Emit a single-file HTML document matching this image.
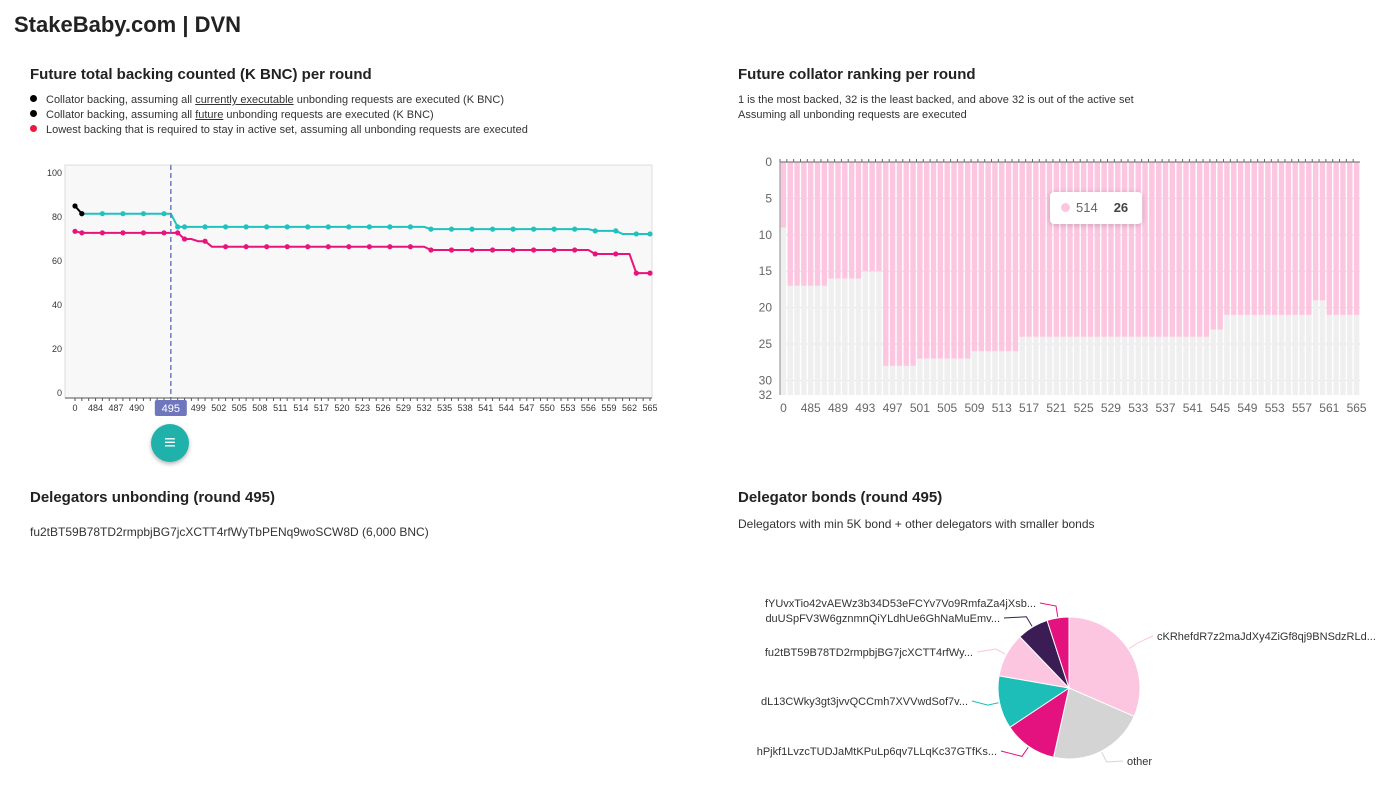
<!DOCTYPE html>
<html><head><meta charset="utf-8">
<style>
body{margin:0;width:1400px;height:810px;background:#fff;font-family:"Liberation Sans",sans-serif;color:#222;position:relative;overflow:hidden}
.abs{position:absolute}
h1{position:absolute;left:14px;top:12px;margin:0;font-size:22px;font-weight:bold;color:#222}
.st{position:absolute;font-size:15px;font-weight:bold;margin:0}
.sm{position:absolute;font-size:11px;color:#333;line-height:15px}
.leg{position:absolute;font-size:11px;color:#333;line-height:15px}
.leg span.d{display:inline-block;width:7px;height:7px;border-radius:50%;margin-right:9px;vertical-align:1px}
svg text{font-family:"Liberation Sans",sans-serif}
</style></head><body>
<h1>StakeBaby.com | DVN</h1>

<div class="st" style="left:30px;top:66px">Future total backing counted (K BNC) per round</div>
<div class="leg" style="left:30px;top:93px">
<div><span class="d" style="background:#000"></span>Collator backing, assuming all <u>currently executable</u> unbonding requests are executed (K BNC)</div>
<div><span class="d" style="background:#000"></span>Collator backing, assuming all <u>future</u> unbonding requests are executed (K BNC)</div>
<div><span class="d" style="background:#f0173f"></span>Lowest backing that is required to stay in active set, assuming all unbonding requests are executed</div>
</div>

<div class="st" style="left:738px;top:66px">Future collator ranking per round</div>
<div class="sm" style="left:738px;top:93px">1 is the most backed, 32 is the least backed, and above 32 is out of the active set<br>Assuming all unbonding requests are executed</div>

<svg class="abs" style="left:0;top:0" width="1400" height="810" id="svg"></svg>

<div class="st" style="left:30px;top:489px">Delegators unbonding (round 495)</div>
<div class="abs" style="left:30px;top:525px;font-size:12px;color:#333">fu2tBT59B78TD2rmpbjBG7jcXCTT4rfWyTbPENq9woSCW8D (6,000 BNC)</div>

<div class="st" style="left:738px;top:489px">Delegator bonds (round 495)</div>
<div class="abs" style="left:738px;top:517px;font-size:12px;color:#333">Delegators with min 5K bond + other delegators with smaller bonds</div>

<div class="abs" style="left:151px;top:424px;width:38px;height:38px;border-radius:50%;background:#20b2aa;box-shadow:0 2px 4px rgba(0,0,0,.3);color:#fff;text-align:center;line-height:38px;font-size:20px">≡</div>

<div class="abs" style="left:1050px;top:192px;width:92px;height:32px;background:#fff;border-radius:4px;box-shadow:0 1px 6px rgba(0,0,0,.2);font-size:13px;line-height:32px"><span style="display:inline-block;width:9px;height:9px;border-radius:50%;background:#fcc5e0;margin:0 6px 0 11px"></span><span style="color:#666">514</span><b style="margin-left:16px;color:#444">26</b></div>

<script>
// ---- data ----
const rounds = ["0"]; for (let r=482;r<=565;r++) rounds.push(String(r));
const blackSeries = [85, 81.5];
const cyanSeries = [null,81.5,81.5,81.5,81.5,81.5,81.5,81.5,81.5,81.5,81.5,81.5,81.5,81.5,81.5,
 75.5,75.5,75.5,75.5,75.5,75.5,75.5,75.5,75.5,75.5,75.5,75.5,75.5,75.5,75.5,75.5,75.5,75.5,75.5,75.5,75.5,75.5,75.5,75.5,75.5,75.5,75.5,75.5,75.5,75.5,75.5,75.5,75.5,75.5,75.5,75.5,75.5,
 74.5,74.5,74.5,74.5,74.5,74.5,74.5,74.5,74.5,74.5,74.5,74.5,74.5,74.5,74.5,74.5,74.5,74.5,74.5,74.5,74.5,74.5,74.5,74.5,
 73.7,73.7,73.7,73.7,72.3,72.3,72.3,72.3,72.3];
const pinkSeries = [73.5,72.8,72.8,72.8,72.8,72.8,72.8,72.8,72.8,72.8,72.8,72.8,72.8,72.8,72.8,72.8,
 70,70,69,69,
 66.5,66.5,66.5,66.5,66.5,66.5,66.5,66.5,66.5,66.5,66.5,66.5,66.5,66.5,66.5,66.5,66.5,66.5,66.5,66.5,66.5,66.5,66.5,66.5,66.5,66.5,66.5,66.5,66.5,66.5,66.5,66.5,
 65,65,65,65,65,65,65,65,65,65,65,65,65,65,65,65,65,65,65,65,65,65,65,65,
 63.2,63.2,63.2,63.2,63.2,63.2,54.5,54.5,54.5];
const yTicksLeft = [0,20,40,60,80,100];
const rankSeries = [9,17,17,17,17,17,17,16,16,16,16,16,15,15,15,28,28,28,28,28,
 27,27,27,27,27,27,27,27,26,26,26,26,26,26,26,
 24,24,24,24,24,24,24,24,24,24,24,24,24,24,24,24,24,24,24,24,24,24,24,24,24,24,24,24,
 23,23,21,21,21,21,21,21,21,21,21,21,21,21,21,19,19,21,21,21,21,21];
const yTicksRight = [0,5,10,15,20,25,30,32];
const pieLabels = ["cKRhefdR7z2maJdXy4ZiGf8qj9BNSdzRLd...","other","hPjkf1LvzcTUDJaMtKPuLp6qv7LLqKc37GTfKs...","dL13CWky3gt3jvvQCCmh7XVVwdSof7v...","fu2tBT59B78TD2rmpbjBG7jcXCTT4rfWy...","duUSpFV3W6gznmnQiYLdhUe6GhNaMuEmv...","fYUvxTio42vAEWz3b34D53eFCYv7Vo9RmfaZa4jXsb..."];
const pieValues = [31.6,22,12.2,12.1,10.1,7.2,5.0];

const NS="http://www.w3.org/2000/svg", svg=document.getElementById('svg');
function mk(tag,attrs,parent){const e=document.createElementNS(NS,tag);for(const k in attrs)e.setAttribute(k,attrs[k]);(parent||svg).appendChild(e);return e;}

// ---- left chart ----
const L={x0:75,x1:650,top:165,bot:398};
const lx=i=>L.x0+(L.x1-L.x0)*i/(rounds.length-1);
const ly=v=>393-v*2.2;
let bg=mk('rect',{x:65,y:L.top,width:587,height:L.bot-L.top,fill:'#f8f8f8',stroke:'#ddd'});


yTicksLeft.forEach(v=>{const t=mk('text',{x:62,y:ly(v)+3,'text-anchor':'end','font-size':9,fill:'#333'});t.textContent=v;

});
mk('line',{x1:65,x2:652,y1:L.bot,y2:L.bot,stroke:'#555'});
rounds.forEach((r,i)=>{mk('line',{x1:lx(i),x2:lx(i),y1:L.bot,y2:L.bot+3,stroke:'#555'});
 if(i%3===0&&r!=="493"){const t=mk('text',{x:lx(i),y:411,'text-anchor':'middle','font-size':9,fill:'#333'});t.textContent=r;
 
 }});
function line(series,color,name,dotEvery){
 let d='';series.forEach((v,i)=>{if(v==null)return;d+=(d?'L':'M')+lx(i)+','+ly(v);});
 const p=mk('path',{d:d,fill:'none',stroke:color,'stroke-width':2});
 
 
 series.forEach((v,i)=>{if(v==null)return;if(dotEvery&&(i%3!==1&&i!==0&&i!==84&&i!==15))return;
  const c=mk('circle',{cx:lx(i),cy:ly(v),r:2.6,fill:color});
  
  });
}
line(cyanSeries,'#1fc2bd','future-backing-line',true);
line(pinkSeries,'#e8137b','lowest-backing-line',true);
line(blackSeries,'#000','current-backing-line',false);
const sel=rounds.indexOf("495");
mk('line',{x1:lx(sel),x2:lx(sel),y1:L.top,y2:L.bot,stroke:'#5c6bc0','stroke-dasharray':'5,3','stroke-width':1.3});
mk('rect',{x:lx(sel)-16,y:400,width:32,height:16,rx:2,fill:'#6e76bd'});
let al=mk('text',{x:lx(sel),y:412,'text-anchor':'middle','font-size':11,fill:'#fff'});al.textContent=rounds[sel];



// ---- right chart ----
const R={x0:780,x1:1360,top:162,bot:395,max:32};
const bw=(R.x1-R.x0)/rounds.length;
const ry=v=>R.top+(R.bot-R.top)*v/R.max;
yTicksRight.forEach(v=>{if(v>0&&v<32)mk('line',{x1:R.x0,x2:R.x1,y1:ry(v),y2:ry(v),stroke:'#e0e3ea'});
 const t=mk('text',{x:772,y:ry(v)+4,'text-anchor':'end','font-size':12,fill:'#666'});t.textContent=v;
 
 });
rankSeries.forEach((v,i)=>{const x=R.x0+i*bw+0.7,w=bw-1.4;
 const g=mk('rect',{x:x,y:ry(v),width:w,height:R.bot-ry(v),fill:'#efefef'});
 
 
 const b=mk('rect',{x:x,y:R.top,width:w,height:ry(v)-R.top,fill:'#fcc5e0'});
 
 });
mk('line',{x1:R.x0,x2:R.x1,y1:R.top,y2:R.top,stroke:'#666'});
mk('line',{x1:R.x0,x2:R.x0,y1:R.top,y2:R.bot,stroke:'#888'});
rounds.forEach((r,i)=>{mk('line',{x1:R.x0+i*bw,x2:R.x0+i*bw,y1:R.top,y2:R.top-3,stroke:'#666'});
 if(i%4===0){const t=mk('text',{x:R.x0+(i+0.5)*bw,y:412,'text-anchor':'middle','font-size':12,fill:'#666'});t.textContent=r;
 
 }});

// ---- pie ----
const pieColors=['#fcc5e0','#d4d4d4','#e3127e','#1dbdb8','#fcc5e0','#3c1c55','#e3127e'];
const labelPos=[[1157,640,'start'],[1127,765,'start'],[997,755,'end'],[968,705,'end'],[973,656,'end'],[1000,622,'end'],[1036,607,'end']];
const cx=1069,cy=688,rad=71,tot=pieValues.reduce((a,b)=>a+b,0);
let acc=0;
pieValues.forEach((v,i)=>{const a0=acc/tot*2*Math.PI,a1=(acc+v)/tot*2*Math.PI;acc+=v;
 const p=(a)=>[cx+rad*Math.sin(a),cy-rad*Math.cos(a)];
 const s=p(a0),e=p(a1),lg=(a1-a0)>Math.PI?1:0;
 const sl=mk('path',{d:`M${cx},${cy}L${s[0]},${s[1]}A${rad},${rad} 0 ${lg} 1 ${e[0]},${e[1]}Z`,fill:pieColors[i],stroke:'#fff','stroke-width':1});
 
 
 const am=(a0+a1)/2,m=[cx+(rad+1)*Math.sin(am),cy-(rad+1)*Math.cos(am)],m2=[cx+(rad+12)*Math.sin(am),cy-(rad+12)*Math.cos(am)];
 const lp=labelPos[i],ex=lp[2]==='start'?lp[0]-4:lp[0]+4;
 mk('polyline',{points:`${m[0]},${m[1]} ${m2[0]},${m2[1]} ${ex},${lp[1]-4}`,fill:'none',stroke:pieColors[i]});
 const t=mk('text',{x:lp[0],y:lp[1],'text-anchor':lp[2],'font-size':11,fill:'#333'});t.textContent=pieLabels[i];
 
 });
</script>
</body></html>
